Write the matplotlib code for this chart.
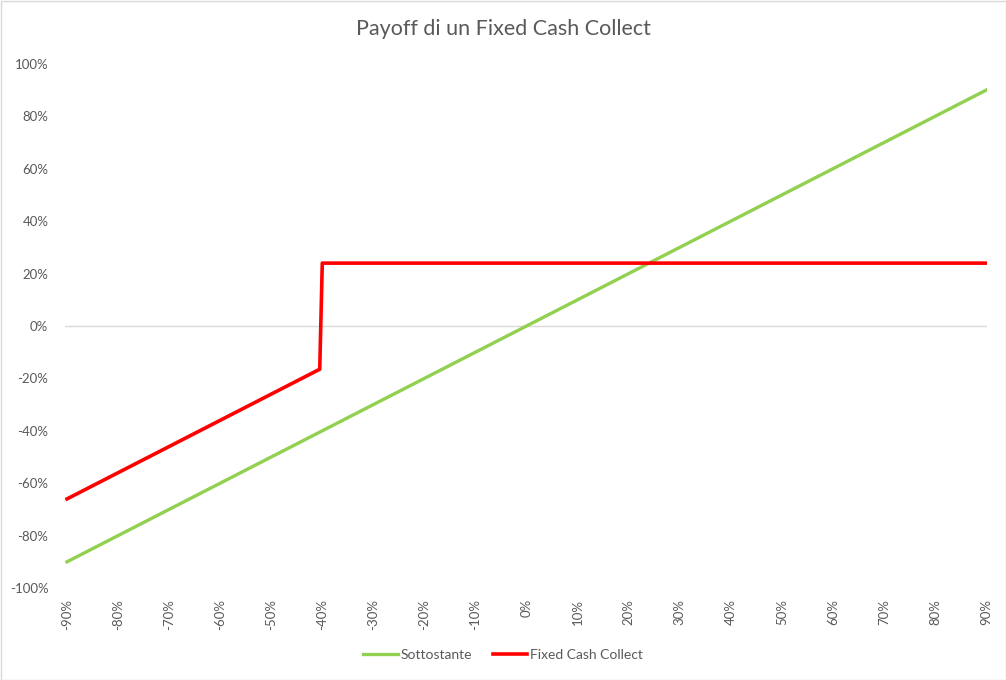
import matplotlib.pyplot as plt
from matplotlib.patches import Rectangle
from matplotlib.ticker import FuncFormatter

# underlying performance vs payoff, in %
sott_x = [-90, 90]
sott_y = [-90, 90]
fcc_x = [-90, -40.5, -40, 90]
fcc_y = [-66, -16.5, 24, 24]
x_ticks = list(range(-90, 91, 10))
y_ticks = list(range(-100, 101, 20))

grey = '#595959'
plt.rcParams['font.family'] = ['Lato', 'DejaVu Sans']

fig = plt.figure(figsize=(10.06, 6.80), dpi=100)
W, H = 1006, 680
ax = fig.add_axes([65 / W, (H - 588) / H, (987 - 65) / W, (588 - 64) / H])

px = (986 - 67) / 180.0
ax.set_xlim(-90 - 2 / px, 90 + 1 / px)
ax.set_ylim(-100, 100)

ax.axhline(0, color='#d9d9d9', lw=1, zorder=1)
ax.plot(sott_x, sott_y, color='#92d050', lw=2.4, label='Sottostante', zorder=3)
ax.plot(fcc_x, fcc_y, color='#ff0000', lw=2.6, label='Fixed Cash Collect', zorder=4)

for s in ax.spines.values():
    s.set_visible(False)
ax.set_xticks(x_ticks)
ax.set_yticks(y_ticks)
fmt = FuncFormatter(lambda v, p: '%d%%' % v)
ax.xaxis.set_major_formatter(fmt)
ax.yaxis.set_major_formatter(fmt)
ax.tick_params(axis='both', length=0, colors=grey, labelsize=9.5)
ax.tick_params(axis='x', rotation=90, pad=8)
ax.tick_params(axis='y', pad=12)

fig.suptitle('Payoff di un Fixed Cash Collect', y=1 - 29 / H, va='center',
             fontsize=15.5, color=grey)
fig.legend(loc='center', bbox_to_anchor=(0.5, 1 - 655 / H), ncol=2, frameon=False,
           fontsize=10, labelcolor=grey, handlelength=2.5, columnspacing=1.5,
           handletextpad=0.2)

fig.add_artist(Rectangle((0.5 / W, 0.5 / H), 1 - 1 / W, 1 - 1 / H, transform=fig.transFigure,
                         fill=False, edgecolor='#d9d9d9', lw=1))

fig.savefig('out.png', dpi=100)
